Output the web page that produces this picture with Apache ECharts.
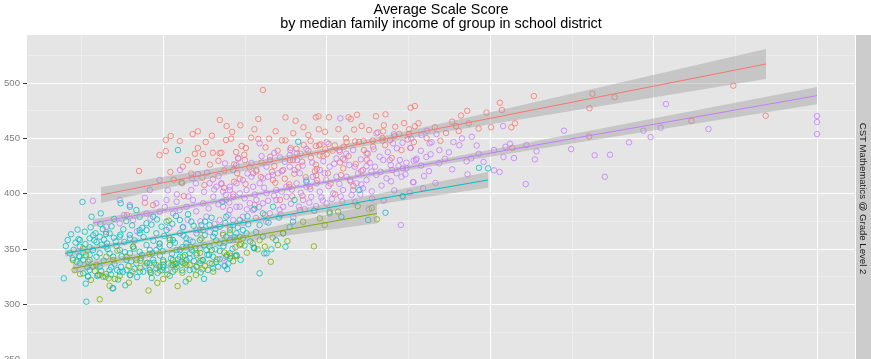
<!DOCTYPE html>
<html><head><meta charset="utf-8">
<script src="https://cdn.jsdelivr.net/npm/echarts@6/dist/echarts.min.js"></script>
<style>html,body{margin:0;padding:0;background:#fff}#c{width:871px;height:359px}</style>
</head><body><div id="c"></div>
<script>
// ---- data: [median family income ($k), average scale score] ----
const titleLine1 = "Average Scale Score";
const titleLine2 = "by median family income of group in school district";
const stripLabel = "CST Mathematics @ Grade Level 2";

const redPts = [
[80.5,493.7],[96.7,469.0],[97.5,469.9],[100.7,469.0],[106.7,469.0],[109.3,471.3],[115.1,469.9],[118.0,471.7],[125.7,477.7],[127.0,479.2],
[123.7,463.8],[125.2,458.2],[125.2,453.9],[127.0,460.9],[128.1,463.6],[126.7,446.7],[122.9,439.4],[133.1,460.0],[136.5,454.8],[138.4,465.0],
[139.6,461.1],[141.1,470.6],[143.0,474.9],[148.9,473.3],[150.3,460.0],[153.0,482.2],[153.6,475.6],[156.5,460.0],[157.6,463.6],[156.8,441.5],
[163.4,488.2],[180.3,451.8],[180.4,477.2],[181.3,490.3],[188.1,487.3],[211.6,465.9],[224.4,497.6],[234.3,470.4],[67.3,466.6],[73.6,461.8],
[79.1,467.5],[87.4,469.0],[90.5,465.9],[92.9,460.0],[97.6,458.2],[107.4,467.5],[110.7,461.1],[113.0,457.5],[115.6,455.4],[117.5,461.8],
[117.3,456.3],[121.0,460.5],[69.2,448.5],[70.8,449.7],[76.9,450.6],[79.1,449.4],[82.4,449.7],[86.3,448.2],[87.4,448.2],[90.8,440.6],
[93.0,444.0],[95.1,447.8],[96.7,443.1],[97.7,443.7],[99.6,440.1],[98.1,444.6],[100.6,445.1],[102.5,443.7],[103.9,439.4],[105.2,442.4],
[105.9,450.0],[106.1,446.7],[108.7,447.3],[109.9,446.9],[111.3,447.6],[111.4,439.4],[112.6,436.1],[117.1,450.3],[117.1,447.9],[119.4,448.2],
[125.6,441.3],[67.8,437.0],[72.3,437.6],[74.0,443.1],[75.3,441.3],[72.9,432.2],[71.7,426.5],[75.0,430.4],[82.7,433.4],[84.0,425.0],
[83.3,419.8],[88.8,430.4],[89.7,430.4],[90.1,418.0],[92.5,428.9],[96.7,426.2],[97.0,422.5],[96.4,420.2],[95.2,432.8],[100.0,435.6],
[99.0,434.0],[105.0,431.6],[106.7,434.0],[105.1,422.9],[107.2,412.3],[100.4,418.4],[102.6,399.4],[108.2,406.9],[67.8,408.7],[68.6,405.4],
[71.7,410.8],[73.4,413.5],[77.5,418.4],[78.5,420.2],[75.2,408.7],[83.6,412.3],[84.3,409.9],[87.2,413.5],[88.6,408.4],[88.6,406.0],
[89.5,397.6],[93.6,414.8],[96.8,416.6],[97.1,412.1],[92.6,398.1],[71.4,399.4],[42.6,420.5],[48.9,434.9],[52.2,419.6],[53.2,412.6],
[62.2,435.8],[65.2,437.0],[67.3,436.5],[62.0,414.4],[62.6,407.8],[65.2,413.0],[56.3,397.9],[44.4,391.8],[46.9,389.7],[38.9,380.7],
[32.6,365.3],[59.7,436.1],[50.8,448.5],[52.3,452.1],[55.1,447.6],[59.0,453.9],[50.8,438.5],[60.6,441.3],[69.4,461.1],[63.0,446.7],
[57.5,430.4],[78.0,389.7],[81.1,380.7],[85.7,394.3],[91.8,385.2],[61.2,367.2],[48.9,354.5],
[56.0,424.4],[60.3,428.7],[64.3,426.3],[68.7,420.9],[72.6,418.6],[76.4,423.8],[80.1,428.1],[81.3,441.8],[85.0,438.8],[89.0,441.3],
[92.0,436.2],[94.4,438.9],[97.9,434.5],[101.8,438.9],[104.1,428.1],[108.9,426.8],[112.3,430.6],[114.2,442.5],[117.9,443.8],[120.8,452.2],
[122.2,454.0],[124.8,449.0],[130.6,450.2],[134.8,447.8],[140.4,456.6],[143.5,463.5],[146.5,458.9],[60.6,456.3],[64.9,452.4],[71.1,455.8],
[77.9,458.2],[84.4,456.4],[89.8,454.6],[94.4,453.0],[99.5,455.9],[103.6,458.3],[108.4,457.9],[58.6,418.2],[66.9,429.7],[74.8,435.2],
[79.9,415.1],[86.3,420.3],[91.3,423.8],[94.8,406.6],[101.2,409.1],[104.4,416.8],[110.6,420.3],[114.1,448.0],[119.9,432.3]
];
const purplePts = [
[129.0,453.0],[130.7,456.9],[133.6,453.9],[131.5,445.5],[132.1,446.4],[125.7,441.5],[128.8,438.8],[131.8,435.6],[134.5,439.4],[136.2,431.6],
[127.5,431.6],[127.3,430.4],[124.4,428.0],[123.3,422.9],[124.1,417.5],[122.9,415.3],[129.8,415.9],[126.6,410.3],[125.4,400.9],[123.4,397.2],
[141.4,450.0],[144.4,451.5],[138.4,422.0],[142.8,429.2],[144.2,431.9],[143.1,417.5],[151.2,439.4],[154.0,461.1],[154.7,442.4],[154.1,433.1],
[156.1,445.1],[157.3,432.2],[161.1,443.9],[160.9,408.7],[164.2,438.3],[163.7,431.0],[151.2,421.1],[152.9,419.6],[172.6,456.9],[174.8,440.3],
[182.0,434.7],[203.8,481.0],[196.9,456.9],[202.2,459.6],[199.1,451.2],[192.5,446.4],[186.7,435.2],[185.1,415.3],[216.8,458.4],[250.0,470.2],
[250.0,464.7],[250.0,453.9],[104.2,468.1],[79.5,445.5],[88.9,439.4],[90.9,436.5],[90.9,430.4],[115.2,454.5],[120.6,453.9],[120.3,445.5],
[123.2,446.0],[125.9,449.7],[126.6,429.8],[126.4,410.5],[120.0,421.4],[117.3,430.4],[114.8,424.4],[113.2,428.0],[112.2,425.0],[111.1,421.4],
[109.6,418.4],[108.6,424.4],[106.9,425.9],[105.5,430.4],[103.0,431.9],[100.9,424.4],[99.4,418.4],[97.9,421.4],[95.8,415.3],[93.8,412.3],
[91.8,418.4],[90.2,421.4],[88.7,424.4],[86.7,421.4],[85.1,418.4],[83.6,416.9],[82.1,415.3],[80.5,413.9],[79.5,409.4],[77.5,406.3],
[75.5,403.3],[73.4,400.3],[71.4,397.2],[69.3,394.3],[68.3,388.2],[70.4,385.2],[73.4,388.2],[76.5,391.3],[78.5,394.3],[81.6,400.3],
[84.6,403.3],[87.7,406.3],[90.8,409.4],[93.8,406.3],[96.9,409.4],[99.9,412.3],[103.0,415.3],[106.1,415.3],[109.1,409.4],[112.2,412.3],
[115.2,416.9],[118.3,413.9],[121.4,418.4],[124.4,422.9],[122.7,371.7],[97.9,401.8],[95.3,397.2],[92.8,394.3],[87.7,397.2],[84.6,394.3],
[80.5,391.3],[77.5,385.2],[74.4,379.2],[71.4,376.2],[82.6,382.2],[86.7,388.2],[102.0,400.3],[105.0,403.3],[108.1,403.3],[111.1,404.8],
[88.7,434.9],[85.7,432.8],[82.6,430.4],[81.6,424.4],[78.5,421.4],[77.0,415.3],[74.4,412.3],[72.4,409.4],[70.4,406.3],[68.3,401.8],
[104.0,437.9],[108.1,439.4],[112.2,436.5],[116.2,433.4],[119.3,430.4],[122.4,430.4],[28.5,393.6],[60.6,417.8],[60.0,409.4],[55.8,409.4],
[58.6,403.3],[64.2,409.4],[66.3,406.3],[67.8,409.4],[70.4,403.3],[71.4,421.4],[68.9,427.4],[72.4,425.9],[44.4,396.3],[47.9,391.3],
[51.0,394.3],[54.1,392.7],[57.1,388.2],[59.1,394.3],[62.2,391.3],[65.3,397.2],[72.4,388.2],[63.2,379.2],[67.3,376.2],[70.4,370.1],
[53.0,382.2],[48.9,383.7],[44.9,382.2],[40.8,376.2],[36.7,373.2],[32.6,370.1],[56.1,370.1],[60.2,367.1],[64.2,365.6],[68.3,364.2],
[71.4,358.1],[58.1,358.1],[68.3,341.6],[68.8,335.5],[55.1,421.4],[48.9,412.3],[45.9,403.3],[39.8,389.7],[36.7,394.3],
[62.5,401.7],[65.6,403.8],[69.1,398.9],[74.9,395.8],[78.0,399.2],[80.9,405.4],[83.9,398.1],[86.3,401.9],[89.4,403.7],[92.1,400.8],
[95.0,404.2],[98.4,396.6],[100.6,406.8],[103.9,408.9],[107.3,411.0],[110.6,408.3],[113.7,420.1],[116.5,419.8],[119.6,425.8],[122.0,425.0],
[60.1,384.0],[63.9,386.7],[66.9,390.4],[70.2,392.0],[75.6,385.8],[79.3,388.0],[82.1,393.6],[85.6,385.5],[89.1,391.0],[91.5,388.4],
[94.7,391.9],[98.8,393.8],[101.6,395.1],[104.3,397.5],[107.6,398.8],[110.3,399.3],[113.8,402.1],[116.8,407.3],[119.7,411.1],[57.5,376.5],
[61.4,375.0],[65.7,372.7],[69.9,380.9],[74.6,373.5],[78.4,378.1],[81.5,374.7],[85.9,381.2],[89.8,378.6],[93.3,385.9],[96.8,388.8],
[100.0,391.2],[104.8,393.0],[108.7,392.2],[113.9,395.6],[77.0,427.8],[80.1,433.9],[84.0,436.9],[87.2,428.8],[92.7,425.3],[95.6,428.1],
[99.0,429.4],[102.3,427.0],[106.0,436.1],[110.5,431.0],[114.4,440.1],[118.7,437.6],[121.5,441.0],[93.8,440.4],[100.0,446.4],[51.4,403.0],
[54.2,399.4],[57.7,397.5],[50.5,387.9],[55.0,385.1],[46.1,377.5],[51.8,369.2],[42.0,366.0],[38.0,380.7],[58.8,414.1],[63.4,419.0],
[66.9,415.9],[75.8,418.3],[73.0,431.6],[128.9,425.4],[131.3,420.4],[134.4,427.5],[137.4,437.4],[140.6,443.8],[146.5,436.0],[148.0,428.7],
[133.3,409.7],[129.5,404.8],[120.7,402.9],[117.5,393.8],[112.9,386.0],[130.5,433.2],[138.8,446.7],[145.9,443.5]
];
const cyanPts = [
[19.6,323.5],[26.5,302.4],[21.8,363.3],[24.1,359.0],[26.0,365.6],[27.8,369.6],[30.8,372.6],[29.3,364.2],[32.5,363.5],[26.2,354.5],
[27.5,351.5],[29.6,356.3],[31.2,353.9],[32.8,355.1],[35.5,356.9],[36.9,362.9],[39.8,359.6],[42.8,364.2],[44.9,367.1],[47.9,364.2],
[51.0,367.1],[52.0,359.6],[55.1,364.2],[57.1,359.6],[60.2,364.2],[62.2,367.1],[65.8,364.2],[70.4,364.2],[74.4,367.1],[79.5,371.7],
[86.7,364.2],[89.7,374.7],[21.4,346.1],[24.5,343.0],[27.5,340.0],[30.6,346.1],[33.6,346.1],[36.7,349.1],[39.8,346.1],[42.8,347.5],
[45.9,349.1],[48.9,352.1],[52.0,353.6],[54.1,349.1],[57.1,352.1],[61.2,350.6],[64.2,352.1],[67.3,355.1],[70.4,358.1],[73.4,361.1],
[75.5,364.2],[80.5,361.1],[81.6,346.1],[83.1,349.7],[77.9,350.6],[79.5,328.0],[24.5,337.1],[27.5,331.0],[30.6,334.0],[33.6,331.0],
[36.7,329.5],[39.8,326.5],[42.8,329.5],[45.9,331.0],[48.9,334.0],[51.0,331.0],[54.1,334.0],[56.6,337.1],[60.2,334.0],[63.7,331.0],
[66.8,334.0],[68.8,334.6],[70.4,341.6],[65.3,343.0],[62.2,340.0],[58.1,341.6],[55.1,343.0],[34.7,314.5],[30.1,326.5],[27.0,325.0],
[25.3,392.5],[28.1,379.2],[30.9,382.2],[37.0,391.3],[39.8,388.2],[41.8,385.2],[42.8,379.2],[44.9,373.2],[46.9,379.2],[51.0,374.7],
[55.1,376.2],[58.6,374.7],[61.7,371.7],[64.2,371.7],[67.3,370.1],[71.4,371.7],[42.8,367.1],[39.8,362.6],[36.7,361.1],[33.6,364.2],
[30.6,361.1],[27.5,359.6],[24.5,358.1],[24.5,352.1],[28.5,349.1],[32.6,352.1],[40.8,352.1],[44.9,353.6],[48.9,355.1],[53.0,358.1],
[57.1,355.1],[61.2,358.1],[65.3,361.1],[69.3,361.1],[72.4,364.2],[54.5,439.4],[47.9,349.1],[55.1,349.1],[58.1,346.1],[63.2,349.1],
[69.3,343.0],[25.5,340.0],[29.6,343.0],[34.7,343.0],[38.8,340.0],[41.8,337.1],[45.9,337.1],[50.0,340.0],[54.1,337.1],[57.1,340.0],
[61.2,337.1],[28.5,334.0],[38.8,331.0],[43.9,329.5],[47.9,332.5],[53.0,329.5],[58.1,331.0],[23.5,338.5],[91.3,446.9],[110.0,403.3],
[123.2,397.9],[118.0,382.8],[112.7,376.2],[104.5,379.2],[100.9,383.7],[96.2,384.6],[93.8,410.8],[90.2,394.3],[83.6,388.2],[80.5,382.2],
[73.4,376.2],[69.3,379.2],[68.1,392.7],[146.6,423.4],[149.4,422.9],[77.8,350.9],[80.9,346.1],[72.4,344.6],[70.4,346.1],[67.3,348.2],
[64.0,344.6],[60.2,344.6],[56.6,344.6],[54.5,340.7],[49.8,331.0],[46.1,329.5],[47.2,337.6],[45.1,337.6],[59.9,350.6],[62.0,340.0],
[67.3,340.7],[27.0,325.6],[29.8,325.6],[34.0,327.1],[34.5,314.5],[35.9,331.0],[40.0,326.5],[50.0,335.8],[53.5,336.4],[77.7,351.5],
[50.0,333.4],[53.0,335.5],[59.3,331.6],[65.3,332.5],[72.0,343.7],[37.7,329.5],[32.4,325.0],[25.5,328.0],[24.2,343.7],[27.5,344.6],
[20.2,352.7],[20.8,358.1],
[31.5,368.0],[34.2,370.5],[37.8,367.8],[40.5,371.3],[43.6,369.2],[46.4,372.0],[49.5,370.2],[52.8,372.8],[56.0,369.5],[59.3,371.0],
[62.8,374.8],[66.0,368.3],[69.0,373.5],[72.8,369.4],[76.0,372.4],[31.9,358.4],[34.9,360.2],[38.1,356.3],[41.3,357.7],[44.0,360.8],
[47.0,357.4],[50.3,361.9],[53.6,355.7],[56.2,362.1],[59.0,356.6],[62.7,362.4],[66.2,357.8],[68.7,355.6],[71.9,360.6],[76.6,356.9],
[78.4,365.3],[33.0,349.8],[35.7,352.7],[38.3,347.2],[41.0,350.3],[43.5,344.6],[46.7,346.1],[49.9,348.0],[52.7,345.7],[55.9,351.7],
[58.8,348.9],[62.6,353.3],[66.0,349.7],[68.4,352.6],[71.2,350.1],[74.9,353.1],[31.8,339.4],[35.1,336.6],[37.3,343.4],[40.2,338.9],
[43.2,341.7],[46.9,340.3],[49.0,344.1],[52.4,341.4],[55.6,338.7],[59.4,339.2],[63.5,344.8],[66.2,338.2],[69.9,336.9],[73.7,340.2],
[31.0,330.2],[34.1,333.5],[37.1,333.9],[41.2,332.1],[44.5,334.9],[48.3,328.4],[51.7,336.9],[55.8,330.8],[61.5,328.9],[64.9,336.7],
[69.6,331.8],[36.2,322.4],[42.0,324.6],[46.5,323.8],[52.0,325.7],[56.9,320.6],[62.5,323.0],[26.3,318.7],[38.4,317.2],[22.6,349.3],
[23.2,355.8],[25.6,346.9],[28.9,357.8],[22.3,341.5],[26.8,333.7],[28.6,362.4],[23.8,367.5],[35.0,377.2],[38.7,375.3],[48.1,376.7],
[53.9,379.9],[57.6,381.4],[64.8,378.3],[75.8,379.6],[77.9,386.2],[82.2,373.9],[85.4,378.4],[88.7,369.8],[84.5,357.9],[87.4,352.0]
];
const olivePts = [
[22.9,331.0],[29.1,330.1],[31.6,325.0],[32.6,327.4],[33.6,316.8],[35.2,322.9],[30.6,304.5],[40.6,329.5],[50.0,322.9],[51.3,327.1],
[54.4,316.5],[55.9,328.6],[57.1,335.5],[60.0,326.5],[60.2,334.0],[58.1,335.5],[56.1,337.1],[52.5,335.5],[22.4,340.0],[30.6,326.5],
[33.3,323.5],[32.6,343.0],[61.4,339.4],[62.0,331.6],[65.3,329.5],[69.5,344.6],[70.6,343.7],[72.5,343.9],[73.4,353.6],[78.9,349.7],
[82.9,338.5],[85.1,353.6],[96.1,352.4],[72.1,351.5],[73.9,354.5],[61.3,346.6],[64.2,337.1],[53.8,336.4],[60.2,346.1],[56.1,343.0],
[53.0,340.0],[50.0,338.5],[47.9,335.5],[44.9,337.1],[41.8,340.0],[38.8,343.0],[34.7,340.0],[29.6,335.5],[27.0,338.5],[25.5,350.6],
[40.8,352.1],[52.0,358.1],[61.7,359.6],[68.3,362.6],[70.4,367.1],[72.4,358.1],[81.1,352.1],[99.4,371.7],[92.8,374.7],[86.7,364.2],
[79.5,358.1],[74.4,359.6],[97.9,377.7],[100.9,382.2],[103.5,383.7],[115.4,376.8],[109.5,388.8],[113.8,387.0],[55.6,410.3],[51.7,375.6],
[24.6,327.4],[27.9,322.1],[36.7,325.7],[39.4,334.6],[43.0,332.7],[46.2,328.3],[49.0,330.5],[53.6,331.4],[57.9,323.0],[62.8,334.7],
[66.4,340.6],[68.7,346.9],[71.4,339.0],[75.6,346.7],[77.4,355.1],[83.5,360.4],[88.0,357.1],[64.9,349.1],[58.4,351.7],[45.8,345.6],
[36.0,348.5],[26.4,344.5],[39.5,319.6],[45.5,312.5],[48.2,319.4],[43.0,339.5]
];

// fitted lines (endpoints) and confidence bands [income, lower, upper]
const redFit = [[31.0,398.8],[234.4,517.2]];
const purpleFit = [[28.5,373.5],[250.0,488.6]];
const cyanFit = [[20.0,346.1],[149.4,412.4]];
const oliveFit = [[22.4,332.5],[115.4,382.2]];
const redBand = [[31.0,391.6,406.0],[61.3,412.0,420.8],[101.0,437.5,441.6],[137.7,456.7,465.2],[183.6,479.0,496.2],[234.4,503.6,530.7]];
const purpleBand = [[28.5,370.2,376.8],[61.3,388.5,392.5],[91.9,405.0,407.8],[137.7,427.5,432.7],[183.6,449.5,458.7],[250.0,480.9,496.3]];
const cyanBand = [[20.0,343.1,349.1],[36.8,352.8,356.6],[55.1,362.8,365.5],[85.7,377.1,382.5],[116.3,390.7,400.3],[149.4,405.3,419.5]];
const oliveBand = [[22.4,327.8,337.2],[36.8,337.1,343.3],[52.1,346.1,350.6],[70.4,354.8,361.6],[91.9,363.7,375.6],[115.4,373.2,391.3]];

const COLORS = {red:'#F8766D', olive:'#7CAE00', cyan:'#00BFC4', purple:'#C77CFF'};
const FONT = "'Liberation Sans', Helvetica, Arial, sans-serif";

function pts(data, color){
  return {type:'scatter', xAxisIndex:0, yAxisIndex:0, data:data, z:2, silent:true,
    symbol:'circle', symbolSize:5.5,
    itemStyle:{color:'rgba(0,0,0,0)', borderColor:color, borderWidth:1}};
}
function band(b){
  return {type:'custom', xAxisIndex:0, yAxisIndex:0, z:3, silent:true, clip:true,
    data:b, encode:{x:0, y:[1,2]},
    renderItem:function(params, api){
      if (params.dataIndex !== 0) return null;
      const up = b.map(r => api.coord([r[0], r[2]]));
      const lo = b.map(r => api.coord([r[0], r[1]])).reverse();
      return {type:'polygon', shape:{points:up.concat(lo)}, style:{fill:'rgba(153,153,153,0.4)'}};
    }};
}
function fit(d, color){
  return {type:'line', xAxisIndex:0, yAxisIndex:0, data:d, z:4, silent:true,
    showSymbol:false, symbol:'none', lineStyle:{color:color, width:1}};
}

const chart = echarts.init(document.getElementById('c'), null, {renderer:'canvas'});
chart.setOption({
  animation:false,
  grid:[
    {left:27, right:16, top:35, bottom:-56, outerBoundsMode:'none', containLabel:false},
    {left:-0.25, right:16, top:35, bottom:-56, outerBoundsMode:'none', containLabel:false}
  ],
  xAxis:[
    {type:'value', gridIndex:0, min:8.336, max:261.63, show:false},
    {type:'value', gridIndex:1, min:0, max:261.63, interval:50,
     axisLine:{show:false}, axisTick:{show:false}, axisLabel:{show:false},
     splitLine:{show:true, lineStyle:{color:'#FFFFFF', width:1}},
     minorTick:{show:false, splitNumber:2},
     minorSplitLine:{show:true, lineStyle:{color:'#EDEDED', width:1}}}
  ],
  yAxis:[
    {type:'value', gridIndex:0, min:200, max:543.4, interval:50,
     axisLine:{show:false},
     axisTick:{show:true, length:4, lineStyle:{color:'#333333', width:1}},
     axisLabel:{color:'#7F7F7F', fontSize:9.6, fontFamily:FONT, margin:7, showMaxLabel:false},
     splitLine:{show:true, showMaxLine:false, lineStyle:{color:'#FFFFFF', width:1}},
     minorTick:{show:false, splitNumber:2},
     minorSplitLine:{show:true, lineStyle:{color:'#EDEDED', width:1}}},
    {type:'value', gridIndex:1, min:200, max:543.4, show:false}
  ],
  graphic:[
    {type:'rect', z:-10, silent:true, shape:{x:27, y:35, width:828, height:400}, style:{fill:'#E5E5E5'}},
    {type:'rect', z:-10, silent:true, shape:{x:855, y:35, width:16, height:400}, style:{fill:'#CCCCCC'}},
    {type:'text', z:10, silent:true, x:863, y:198.5, rotation:-Math.PI/2,
     style:{text:stripLabel, fill:'#1A1A1A', font:"9.6px "+FONT, textAlign:'center', verticalAlign:'middle'}},
    {type:'text', z:10, silent:true, x:441, y:10,
     style:{text:titleLine1, fill:'#000', font:"14.4px "+FONT, textAlign:'center', verticalAlign:'middle'}},
    {type:'text', z:10, silent:true, x:441, y:24.3,
     style:{text:titleLine2, fill:'#000', font:"14.4px "+FONT, textAlign:'center', verticalAlign:'middle'}}
  ],
  series:[
    pts(redPts, COLORS.red),
    pts(purplePts, COLORS.purple),
    pts(cyanPts, COLORS.cyan),
    pts(olivePts, COLORS.olive),
    band(redBand), band(oliveBand), band(cyanBand), band(purpleBand),
    fit(redFit, COLORS.red), fit(oliveFit, COLORS.olive), fit(cyanFit, COLORS.cyan), fit(purpleFit, COLORS.purple)
  ]
});
</script>
</body></html>
